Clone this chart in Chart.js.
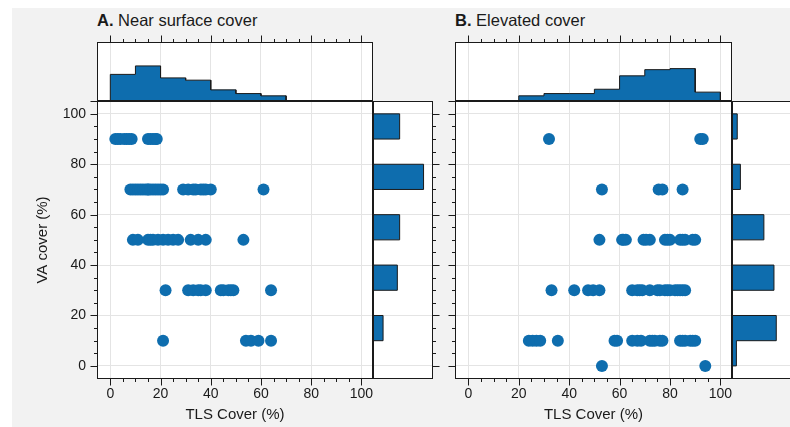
<!DOCTYPE html>
<html>
<head>
<meta charset="utf-8">
<script src="https://cdn.jsdelivr.net/npm/chart.js@4.4.0/dist/chart.umd.min.js"></script>
<style>
  html, body { margin: 0; padding: 0; background: #fff; }
  #fig { position: relative; width: 790px; height: 427px; overflow: hidden; background: #fff;
         font-family: "Liberation Sans", Arial, sans-serif; }
  #bg { position: absolute; left: 12px; top: 8px; right: 0; bottom: 0; background: #f2f2f2; }
  canvas { position: absolute; left: 0; top: 0; }
  .ttl { position: absolute; top: 12px; font-size: 16.5px; line-height: 1; color: #1a1a1a; white-space: nowrap; }
</style>
</head>
<body>
<div id="fig">
  <div id="bg"></div>
  <div class="ttl" style="left:97px"><b>A.</b> Near surface cover</div>
  <div class="ttl" style="left:455px"><b>B.</b> Elevated cover</div>
  <canvas id="aTop" width="800" height="427"></canvas>
  <canvas id="bTop" width="800" height="427"></canvas>
  <canvas id="aRight" width="800" height="427"></canvas>
  <canvas id="bRight" width="800" height="427"></canvas>
  <canvas id="aMain" width="800" height="427"></canvas>
  <canvas id="bMain" width="800" height="427"></canvas>
</div>
<script>
// ---- data ----
var vaLevelsA = [90, 70, 50, 30, 10];
var tlsRowsA = [
  [2, 3, 4, 5.5, 6.5, 7.5, 8.5, 15, 16, 17, 18, 18.5],
  [8, 9, 10, 11, 12, 13, 14, 15, 15, 16, 17, 18, 19, 20, 21, 29, 31, 33, 34, 36, 37, 38, 40, 61],
  [9, 11, 15, 16, 17, 19, 21, 23, 25, 27, 32, 35, 38, 53],
  [22, 31, 33, 35, 36, 38, 44, 45, 47, 48, 49, 64],
  [21, 54, 56, 59, 64]
];
var vaLevelsB = [90, 70, 50, 30, 10, 0];
var tlsRowsB = [
  [32, 92, 93],
  [53, 75.5, 77, 85],
  [52, 61, 61.5, 62.5, 69.5, 70.5, 72, 78, 79, 80, 84, 85, 86, 89, 90],
  [33, 42, 47.5, 49.5, 52, 65, 67, 68, 69, 72, 75, 76, 78, 79, 80, 82, 83, 84, 85, 86],
  [24, 25.5, 27, 28.5, 35.5, 58, 59, 65, 67, 68.5, 72, 73, 74, 76, 77, 84, 85, 86, 88, 89, 90],
  [53, 94]
];
// histogram bins (width 10) and counts
var binEdges = [0, 10, 20, 30, 40, 50, 60, 70, 80, 90, 100];
var tlsCountsA = [12.9, 17.0, 11.2, 10.1, 5.4, 3.6, 2.5, 0, 0, 0];
var tlsCountsB = [0, 0, 2.5, 3.6, 3.6, 5.7, 12.2, 15.2, 15.7, 4.3];
var vaCountsA = [0, 4.8, 0, 11.6, 0, 12.7, 0, 24.1, 0, 12.7];
var vaCountsB = [2.1, 21.1, 0, 20, 0, 15.2, 0, 4.0, 0, 2.5];
// axis ticks
var majorTicks = [0, 20, 40, 60, 80, 100];
var minorTicks = [];
for (var t = 0; t <= 100; t += 5) minorTicks.push(t);

// ---- style ----
var BLUE = '#0e6dae';
var GRID = '#e4e4e4';
var INK = '#1a1a1a';
var FONT = '"Liberation Sans", Arial, sans-serif';
var W = 800, H = 427;
var axMin = -5.3, axMax = 104.6;
var vaMin = -5.2, vaMax = 105.1;
var countMax = 28.6;

function scatterPoints(levels, rows) {
  var pts = [];
  levels.forEach(function (lv, i) {
    rows[i].forEach(function (x) { pts.push({x: x, y: lv}); });
  });
  return pts;
}

// outline of a step-filled histogram, as corner points
function histOutline(counts, vertical) {
  var pts = [];
  var push = function (edge, c) { pts.push(vertical ? {x: c, y: edge} : {x: edge, y: c}); };
  push(binEdges[0], 0);
  counts.forEach(function (c, i) {
    push(binEdges[i], c);
    push(binEdges[i + 1], c);
  });
  push(binEdges[binEdges.length - 1], 0);
  return pts;
}

var framePlugin = {
  id: 'frame',
  beforeDraw: function (chart) {
    var a = chart.chartArea, ctx = chart.ctx;
    ctx.save();
    ctx.fillStyle = '#fff';
    ctx.fillRect(a.left, a.top, a.right - a.left, a.bottom - a.top);
    ctx.restore();
  },
  afterDatasetsDraw: function (chart, args, opts) {
    var a = chart.chartArea, ctx = chart.ctx;
    var L = Math.round(a.left) + 0.5, R = Math.round(a.right) - 0.5;
    var T = Math.round(a.top) + 0.5, B = Math.round(a.bottom) - 0.5;
    ctx.save();
    ctx.strokeStyle = INK;
    ctx.lineWidth = 1;
    ctx.strokeRect(L, T, R - L, B - T);
    (opts.sides || []).forEach(function (s) {
      var horiz = s.side === 'top' || s.side === 'bottom';
      var scale = horiz ? chart.scales.x : chart.scales.y;
      var draw = function (vals, len) {
        vals.forEach(function (v) {
          if (v < scale.min || v > scale.max) return;
          var p = Math.round(scale.getPixelForValue(v)) + 0.5;
          ctx.beginPath();
          if (s.side === 'bottom') { ctx.moveTo(p, B); ctx.lineTo(p, B + len); }
          if (s.side === 'top') { ctx.moveTo(p, T); ctx.lineTo(p, T - len); }
          if (s.side === 'left') { ctx.moveTo(L, p); ctx.lineTo(L - len, p); }
          if (s.side === 'right') { ctx.moveTo(R, p); ctx.lineTo(R + len, p); }
          ctx.stroke();
        });
      };
      draw(s.major || [], 7);
      draw(s.minor || [], 3.5);
    });
    ctx.restore();
  }
};

function axis(min, max, ticks, fitSize, pos, label, showLabels) {
  return {
    type: 'linear',
    position: pos,
    min: min,
    max: max,
    afterBuildTicks: function (s) { s.ticks = ticks.map(function (v) { return {value: v}; }); },
    afterFit: function (s) {
      if (pos === 'left') s.width = fitSize; else s.height = fitSize;
    },
    grid: {color: GRID, lineWidth: 1, drawTicks: false},
    border: {display: false},
    ticks: {
      display: showLabels,
      padding: pos === 'left' ? 11 : 7,
      color: INK,
      font: {family: FONT, size: 14}
    },
    title: {
      display: !!label,
      text: label || '',
      color: INK,
      font: {family: FONT, size: 15},
      padding: {top: 3, bottom: 0}
    }
  };
}

function makeChart(id, area, datasets, xAxis, yAxis, sides) {
  var xFit = xAxis.fit, yFit = yAxis.fit;
  return new Chart(document.getElementById(id), {
    type: 'scatter',
    data: {datasets: datasets},
    options: {
      responsive: false,
      animation: false,
      devicePixelRatio: 1,
      layout: {padding: {left: area.l - yFit, top: area.t, right: W - area.r, bottom: H - area.b - xFit}},
      scales: {
        x: axis(xAxis.min, xAxis.max, xAxis.ticks, xFit, 'bottom', xAxis.label, xAxis.labels),
        y: axis(yAxis.min, yAxis.max, yAxis.ticks, yFit, 'left', yAxis.label, yAxis.labels)
      },
      plugins: {
        legend: {display: false},
        tooltip: {enabled: false},
        frame: {sides: sides}
      }
    },
    plugins: [framePlugin]
  });
}

function histSet(pts) {
  return {data: pts, showLine: true, fill: 'shape', backgroundColor: BLUE, borderColor: INK,
          borderWidth: 1, pointRadius: 0, tension: 0};
}
function dotSet(pts) {
  return {data: pts, backgroundColor: BLUE, borderWidth: 0, pointRadius: 6, pointHoverRadius: 6};
}

var tlsMain = {min: axMin, max: axMax, ticks: majorTicks, fit: 45, label: 'TLS Cover (%)', labels: true};
var tlsHidden = {min: axMin, max: axMax, ticks: majorTicks, fit: 0, label: '', labels: false};
var vaMainA = {min: vaMin, max: vaMax, ticks: majorTicks, fit: 66, label: 'VA cover (%)', labels: true};
var vaHidden = {min: vaMin, max: vaMax, ticks: majorTicks, fit: 0, label: '', labels: false};
var countTop = {min: 0, max: countMax, ticks: [0], fit: 0, label: '', labels: false};

// top marginal histograms
makeChart('aTop', {l: 97, t: 42, r: 373, b: 101}, [histSet(histOutline(tlsCountsA, false))],
  tlsHidden, countTop, [{side: 'top', major: majorTicks, minor: minorTicks}, {side: 'left', major: [0]}]);
makeChart('bTop', {l: 455, t: 42, r: 732, b: 101}, [histSet(histOutline(tlsCountsB, false))],
  tlsHidden, countTop, [{side: 'top', major: majorTicks, minor: minorTicks}, {side: 'left', major: [0]}]);

// right marginal histograms
makeChart('aRight', {l: 373, t: 101, r: 433, b: 379}, [histSet(histOutline(vaCountsA, true))],
  countTop, vaHidden, [{side: 'right', major: majorTicks, minor: minorTicks}]);
makeChart('bRight', {l: 732, t: 101, r: 792, b: 379}, [histSet(histOutline(vaCountsB, true))],
  countTop, vaHidden, [{side: 'right', major: majorTicks, minor: minorTicks}]);

// main scatter panels
makeChart('aMain', {l: 97, t: 101, r: 373, b: 379}, [dotSet(scatterPoints(vaLevelsA, tlsRowsA))],
  tlsMain, vaMainA, [{side: 'left', major: majorTicks, minor: minorTicks}, {side: 'bottom', major: majorTicks, minor: minorTicks}]);
makeChart('bMain', {l: 455, t: 101, r: 732, b: 379}, [dotSet(scatterPoints(vaLevelsB, tlsRowsB))],
  tlsMain, vaHidden, [{side: 'left', major: majorTicks, minor: minorTicks}, {side: 'bottom', major: majorTicks, minor: minorTicks}]);
</script>
</body>
</html>
